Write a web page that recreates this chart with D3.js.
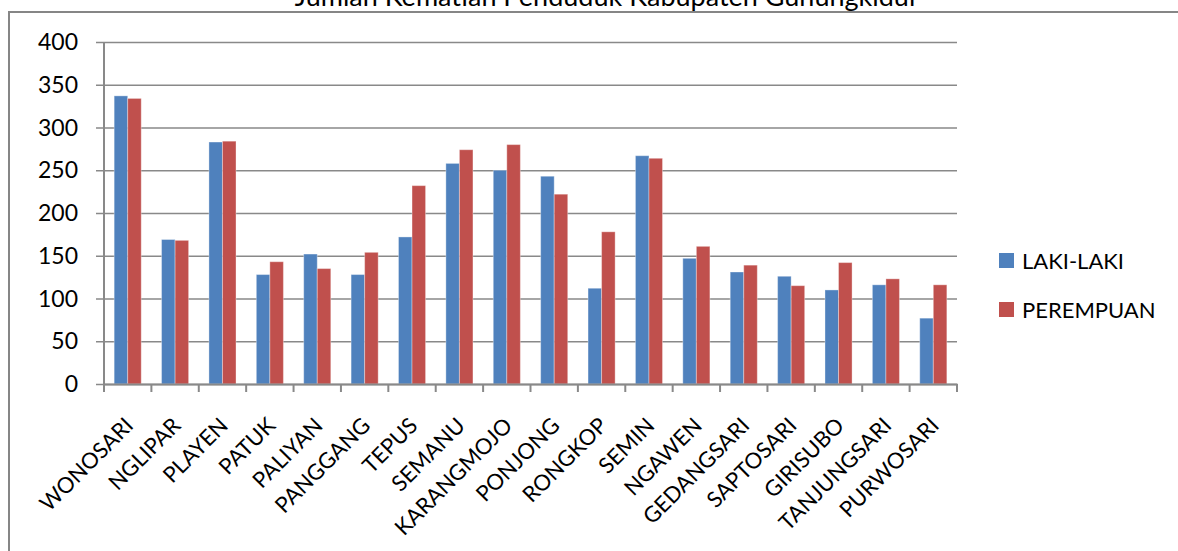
<!DOCTYPE html>
<html>
<head>
<meta charset="utf-8">
<script src="https://cdn.jsdelivr.net/npm/d3@7"></script>
<style>
  html, body { margin: 0; padding: 0; background: #ffffff; }
  svg { display: block; }
  text { font-family: Lato, "Open Sans", sans-serif; fill: #000; }
</style>
</head>
<body>
<svg id="chart" width="1178" height="551"></svg>
<script>
// Kecamatan (districts) of Gunungkidul
const categories = ["WONOSARI", "NGLIPAR", "PLAYEN", "PATUK", "PALIYAN", "PANGGANG",
  "TEPUS", "SEMANU", "KARANGMOJO", "PONJONG", "RONGKOP", "SEMIN", "NGAWEN",
  "GEDANGSARI", "SAPTOSARI", "GIRISUBO", "TANJUNGSARI", "PURWOSARI"];

const seriesNames = ["LAKI-LAKI", "PEREMPUAN"];
const lakiLaki  = [337, 169, 283, 128, 152, 128, 172, 258, 250, 243, 112, 267, 147, 131, 126, 110, 116, 77];
const perempuan = [334, 168, 284, 143, 135, 154, 232, 274, 280, 222, 178, 264, 161, 139, 115, 142, 123, 116];
const yTicks = [0, 50, 100, 150, 200, 250, 300, 350, 400];
const titleText = "Jumlah Kematian Penduduk Kabupaten Gunungkidul";

const colors = ["#4F81BD", "#C0504D"];
const gridColor = "#898989";

const svg = d3.select("#chart");

// Chart frame
svg.append("rect")
  .attr("x", 9).attr("y", 12)
  .attr("width", 1180).attr("height", 560)
  .attr("fill", "none")
  .attr("stroke", "#868686")
  .attr("stroke-width", 2);

// Title (sits above the frame's top edge)
svg.append("text")
  .attr("x", 605).attr("y", 5.5)
  .attr("text-anchor", "middle")
  .style("font-size", "27px")
  .text(titleText);

const plot = { left: 104, right: 957, top: 42, bottom: 384 };

const x = d3.scaleBand()
  .domain(categories)
  .range([plot.left, plot.right])
  .paddingInner(0).paddingOuter(0);

const xs = d3.scaleBand()
  .domain(seriesNames)
  .range([0, x.bandwidth()])
  .paddingInner(0).paddingOuter(0.75);

const y = d3.scaleLinear()
  .domain([0, 400])
  .range([plot.bottom, plot.top]);

// Horizontal gridlines with left tick stubs
const yAxis = d3.axisLeft(y)
  .tickValues(yTicks)
  .tickSize(-(plot.right - plot.left))
  .tickSizeOuter(0)
  .tickPadding(0)
  .tickFormat("");

const gy = svg.append("g")
  .attr("transform", `translate(${plot.left},0)`)
  .call(yAxis);
gy.select(".domain").remove();
gy.selectAll(".tick line")
  .attr("x1", -8)
  .attr("stroke", gridColor)
  .attr("stroke-width", 1.5);

// Y tick labels
svg.append("g").selectAll("text")
  .data(yTicks)
  .join("text")
  .attr("x", 78)
  .attr("y", d => y(d) + 8)
  .attr("text-anchor", "end")
  .style("font-size", "23px")
  .text(d => d);

// Bars
const rows = categories.map((c, i) => ({ cat: c, values: [lakiLaki[i], perempuan[i]] }));

const groups = svg.append("g").selectAll("g")
  .data(rows)
  .join("g")
  .attr("transform", d => `translate(${x(d.cat)},0)`);

groups.selectAll("rect")
  .data(d => d.values.map((v, k) => ({ name: seriesNames[k], value: v, k })))
  .join("rect")
  .attr("x", d => xs(d.name))
  .attr("y", d => y(d.value))
  .attr("width", xs.bandwidth())
  .attr("height", d => y(0) - y(d.value))
  .attr("fill", d => colors[d.k])
  .attr("stroke", "rgba(255,255,255,0.35)")
  .attr("stroke-width", 1);

// Y axis line
svg.append("line")
  .attr("x1", plot.left).attr("x2", plot.left)
  .attr("y1", plot.top).attr("y2", plot.bottom)
  .attr("stroke", gridColor)
  .attr("stroke-width", 2);

// X axis with category boundary ticks
const xAxis = d3.axisBottom(x).tickSize(0).tickFormat("");
const gx = svg.append("g")
  .attr("transform", `translate(0,${plot.bottom})`)
  .call(xAxis);
gx.selectAll(".tick").remove();
gx.select(".domain")
  .attr("stroke", gridColor)
  .attr("stroke-width", 2);

const boundaries = categories.map(c => x(c)).concat([x(categories[categories.length - 1]) + x.bandwidth()]);
gx.selectAll("line.bound")
  .data(boundaries)
  .join("line")
  .attr("class", "bound")
  .attr("x1", d => d).attr("x2", d => d)
  .attr("y1", 0).attr("y2", 8)
  .attr("stroke", gridColor)
  .attr("stroke-width", 2);

// Rotated category labels
svg.append("g").selectAll("text")
  .data(categories)
  .join("text")
  .attr("transform", d => `translate(${x(d) + x.bandwidth() / 2 + 7},427) rotate(-45)`)
  .attr("text-anchor", "end")
  .style("font-size", "22px")
  .text(d => d);

// Legend
const legend = svg.append("g").selectAll("g")
  .data(seriesNames)
  .join("g")
  .attr("transform", (d, i) => `translate(999,${253 + i * 49})`);

legend.append("rect")
  .attr("width", 15).attr("height", 15)
  .attr("fill", (d, i) => colors[i]);

legend.append("text")
  .attr("x", 23).attr("y", 16)
  .style("font-size", "22px")
  .text(d => d);
</script>
</body>
</html>
